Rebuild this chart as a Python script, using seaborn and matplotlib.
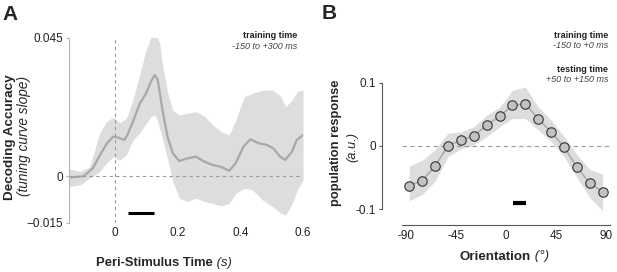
import numpy as np
import pandas as pd
import seaborn as sns
import matplotlib.pyplot as plt

# --- panel A: decoding accuracy over time ---
t_line = [-0.15, -0.10, -0.07, -0.05, -0.025, -0.005, 0.01, 0.03, 0.04, 0.06,
          0.08, 0.10, 0.115, 0.127, 0.137, 0.152, 0.168, 0.185, 0.205, 0.232,
          0.258, 0.285, 0.31, 0.338, 0.365, 0.385, 0.41, 0.432, 0.46, 0.485,
          0.505, 0.527, 0.543, 0.565, 0.58, 0.6]
mean_a = [-0.0004, 0.0, 0.0026, 0.0064, 0.0107, 0.0129, 0.0126, 0.0118, 0.0134, 0.0183,
          0.0237, 0.027, 0.0307, 0.0329, 0.0313, 0.0215, 0.0129, 0.0075, 0.005, 0.0058,
          0.0064, 0.0048, 0.0037, 0.0031, 0.0018, 0.0042, 0.0096, 0.012, 0.0107, 0.0102,
          0.0091, 0.0064, 0.0053, 0.008, 0.0118, 0.0134]

t_band = [-0.15, -0.11, -0.08, -0.048, -0.027, -0.005, 0.016, 0.037, 0.058, 0.079,
          0.10, 0.116, 0.13, 0.143, 0.153, 0.169, 0.185, 0.206, 0.233, 0.259,
          0.286, 0.312, 0.339, 0.365, 0.386, 0.413, 0.439, 0.471, 0.503, 0.529,
          0.545, 0.566, 0.582, 0.6]
upper_a = [0.0026, 0.0015, 0.0031, 0.014, 0.0177, 0.0192, 0.0174, 0.0188, 0.0248, 0.0329,
           0.041, 0.0453, 0.0464, 0.0432, 0.0356, 0.0269, 0.0215, 0.0199, 0.0205, 0.021,
           0.0195, 0.0167, 0.0145, 0.0134, 0.0183, 0.0259, 0.0269, 0.028, 0.028, 0.0259,
           0.0226, 0.0248, 0.0275, 0.028]
lower_a = [-0.0034, -0.0028, -0.0006, 0.0015, 0.0042, 0.0064, 0.0053, 0.0069, 0.0118, 0.014,
           0.0172, 0.0194, 0.0199, 0.0156, 0.0118, 0.0053, -0.0017, -0.0071, -0.0082, -0.0071,
           -0.0082, -0.0088, -0.0096, -0.0088, -0.0055, -0.0039, -0.0044, -0.0077, -0.0098, -0.012,
           -0.0126, -0.0088, -0.0044, -0.0012]
sig_a = [0.043, 0.124]
sig_a_level = -0.0118

# --- panel B: population tuning ---
orient = [-87, -75.4, -63.8, -52.2, -40.6, -29, -17.4, -5.8,
          5.8, 17.4, 29, 40.6, 52.2, 63.8, 75.4, 87]
resp_b = [-0.063, -0.055, -0.032, 0.0, 0.009, 0.0156, 0.0327, 0.0465,
          0.0637, 0.0664, 0.0423, 0.022, -0.002, -0.0337, -0.0593, -0.0727]
upper_b = [-0.032, -0.023, -0.006, 0.02, 0.022, 0.03, 0.048, 0.061,
           0.0875, 0.093, 0.061, 0.041, 0.0145, -0.014, -0.0375, -0.045]
lower_b = [-0.087, -0.077, -0.056, -0.017, -0.005, 0.0015, 0.0145, 0.03,
           0.043, 0.043, 0.025, 0.0067, -0.017, -0.05, -0.082, -0.103]
sig_b = [6, 18]
sig_b_level = -0.09

sns.set_theme(style='ticks')
plt.rcParams['font.family'] = ['Liberation Sans', 'DejaVu Sans']

W, H = 617, 272
fig = plt.figure(figsize=(W / 100, H / 100), dpi=100)

def box(x0, y0, x1, y1):
    return [x0 / W, 1 - y1 / H, (x1 - x0) / W, (y1 - y0) / H]

band_col = '#dddddd'
line_col = '#a8a8a8'

# ---------------- A ----------------
axA = fig.add_axes(box(69, 37.7, 303, 222.5))
axA.fill_between(t_band, lower_a, upper_a, color=band_col, lw=0)
sns.lineplot(x=t_line, y=mean_a, ax=axA, color=line_col, lw=1.6)
axA.axhline(0, color='#999999', lw=0.8, ls=(0, (3, 3)))
axA.axvline(0, color='#999999', lw=0.8, ls=(0, (3, 3)))
axA.plot(sig_a, [sig_a_level] * 2, color='black', lw=2.2, solid_capstyle='butt')
axA.set_xlim(-0.146, 0.6)
axA.set_ylim(-0.015, 0.045)
axA.set_xticks([0, 0.2, 0.4, 0.6], ['0', '0.2', '0.4', '0.6'])
axA.set_yticks([-0.015, 0, 0.045], ['\u22120.015', '0', '0.045'])
for s in ['top', 'right', 'bottom']:
    axA.spines[s].set_visible(False)
axA.spines['left'].set_color('#b5b5b5')
axA.spines['left'].set_linewidth(0.8)
axA.tick_params(axis='x', length=0, pad=3.5, labelsize=8.5, labelcolor='#222222')
axA.tick_params(axis='y', length=2.2, width=0.8, color='#b5b5b5', pad=2,
                labelsize=8.5, labelcolor='#222222')

axA.text(297.5 / W, 1 - 35.7 / H, 'training time', transform=fig.transFigure,
         ha='right', va='center', fontsize=6.5, weight='bold', color='#222222')
axA.text(297.5 / W, 1 - 46 / H, '-150 to +300 ms', transform=fig.transFigure,
         ha='right', va='center', fontsize=6.5, style='italic', color='#444444')

fig.text(2 / W, 1 - 19.5 / H, 'A', fontsize=15, weight='bold', va='baseline')
fig.text(10 / W, 1 - 137.5 / H, 'Decoding Accuracy', rotation=90, ha='center',
         va='center', fontsize=9.7, weight='bold')
fig.text(24.5 / W, 1 - 136 / H, '(tuning curve slope)', rotation=90, ha='center',
         va='center', fontsize=9.8, style='italic')
xa = fig.text(96 / W, 1 - 263 / H, 'Peri-Stimulus Time', fontsize=9.4,
              weight='bold', ha='left', va='center')
fig.add_artist(plt.Annotation(' (s)', xy=(1, 0), xycoords=xa, ha='left', va='bottom',
                              fontsize=9.4, style='italic'))

# ---------------- B ----------------
axB = fig.add_axes(box(402, 82.5, 610, 212.2))
axB.fill_between(orient, lower_b, upper_b, color=band_col, lw=0)
axB.axhline(0, color='#9a9a9a', lw=0.8, ls=(0, (4, 3)))
sns.lineplot(x=orient, y=resp_b, ax=axB, color='#b0b0b0', lw=1.3, marker='o',
             markersize=6.8, markerfacecolor='#c2c2c2', markeredgecolor='#333333',
             markeredgewidth=0.8)
axB.plot(sig_b, [sig_b_level] * 2, color='black', lw=3, solid_capstyle='butt')
axB.set_xlim(-93.6, 93.6)
axB.set_ylim(-0.105, 0.1)
axB.set_xticks([-90, -45, 0, 45, 90], ['-90', '-45', '0', '45', '90'])
axB.set_yticks([-0.1, 0, 0.1], ['-0.1', '0', '0.1'])
for s in ['top', 'right']:
    axB.spines[s].set_visible(False)
axB.spines['left'].set_position(('outward', 14.4))
axB.spines['bottom'].set_position(('outward', 9.2))
axB.spines['left'].set_bounds(-0.1, 0.1)
for s in ['left', 'bottom']:
    axB.spines[s].set_color('#555555')
    axB.spines[s].set_linewidth(0.8)
axB.tick_params(axis='x', length=0, pad=3.6, labelsize=8.5, labelcolor='#222222')
axB.tick_params(axis='y', length=2.2, width=0.8, color='#555555', pad=2,
                labelsize=8.5, labelcolor='#222222')

for yy, txt, kw in [(35.7, 'training time', dict(weight='bold', color='#222222')),
                    (45.5, '-150 to +0 ms', dict(style='italic', color='#444444')),
                    (69.5, 'testing time', dict(weight='bold', color='#222222')),
                    (79.5, '+50 to +150 ms', dict(style='italic', color='#444444'))]:
    fig.text(608 / W, 1 - yy / H, txt, ha='right', va='center', fontsize=6.5, **kw)

fig.text(322 / W, 1 - 19 / H, 'B', fontsize=15, weight='bold', va='baseline')
fig.text(336 / W, 1 - 142.5 / H, 'population response', rotation=90, ha='center',
         va='center', fontsize=9.3, weight='bold')
fig.text(352 / W, 1 - 147 / H, '(a.u.)', rotation=90, ha='center',
         va='center', fontsize=9.3, style='italic')
xb = fig.text(460 / W, 1 - 256.5 / H, 'Orientation', fontsize=9.6,
              weight='bold', ha='left', va='center')
fig.add_artist(plt.Annotation(' (\u00b0)', xy=(1, 0), xycoords=xb, ha='left', va='bottom',
                              fontsize=9.6, style='italic'))

fig.savefig('out.png', dpi=100)
plt.close(fig)
